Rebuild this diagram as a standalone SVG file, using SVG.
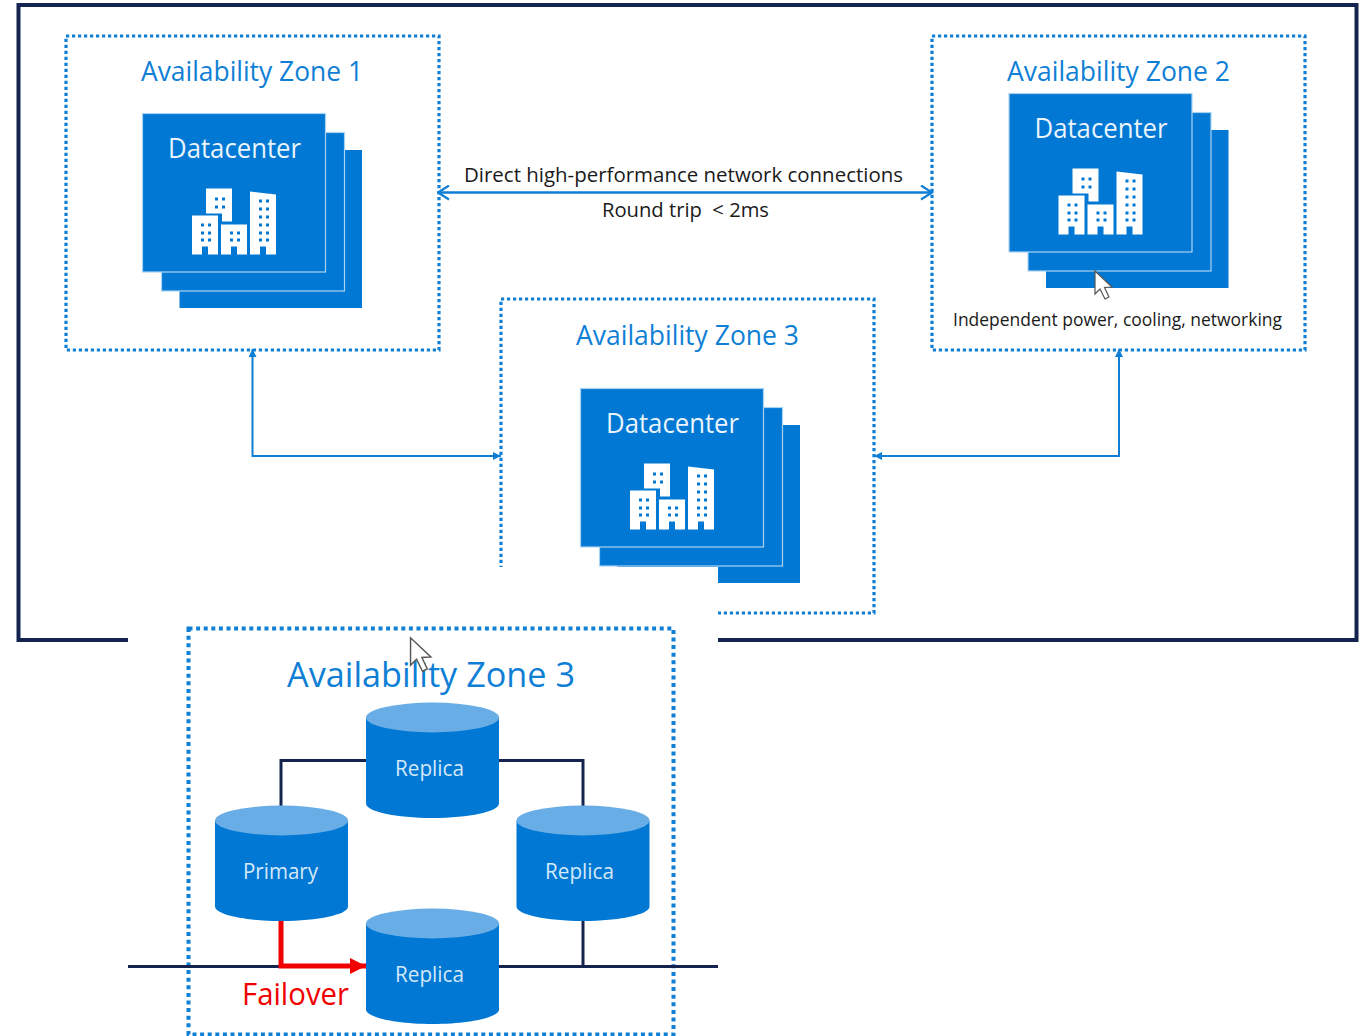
<svg xmlns="http://www.w3.org/2000/svg" xmlns:xlink="http://www.w3.org/1999/xlink" width="1364" height="1036" viewBox="0 0 1364 1036">
<style>
text{font-family:"Open Sans","Noto Sans","Liberation Sans",sans-serif}
.zone{fill:none;stroke:#0f7fd6;stroke-width:3.200;stroke-dasharray:3.200 2.800}
.zt{fill:#0f7fd6;font-size:27px}
.lab{fill:#1a1a1a;font-size:20px}
.dc{fill:#0078d4;stroke:#a9d3f2;stroke-width:1.2}
.dt{fill:#eaf4fc;font-size:27px}
.cb{fill:#0078d4}.ct{fill:#68ade6}
.ctx{fill:#d5e9f8;font-size:21px}
.nav{fill:none;stroke:#14244f;stroke-width:3}
.blue{fill:none;stroke:#0f7fd6;stroke-width:2}
.cur{fill:#fff;stroke:#555;stroke-width:1.2}
</style>
<defs>
<g id="dc">
<rect x="37" y="36.500" width="182.500" height="158" fill="#0078d4"/>
<rect class="dc" x="19" y="19" width="183" height="158.500"/>
<rect class="dc" x="0" y="0" width="183" height="158.500"/>
<text class="dt" x="25.500" y="44.500" textLength="133" lengthAdjust="spacingAndGlyphs">Datacenter</text>
<g fill="#fff" transform="translate(-0.500 0)">
<path d="M64 75H90V108H80V100H64Z"/>
<path d="M50 102H76V141H66V133H60V141H50Z"/>
<path d="M79 111H105V141H95V133H89V141H79Z"/>
<path d="M108 78L134 81V141H124V133H118V141H108Z"/>
</g>
<g fill="#0078d4" transform="translate(-0.500 0)">
<path d="M73 84h3v3h-3zM80 84h3v3h-3zM73 92h3v3h-3zM80 92h3v3h-3z"/>
<path d="M59 110h3v3h-3zM66 110h3v3h-3zM59 118h3v3h-3zM66 118h3v3h-3zM59 125h3v3h-3zM66 125h3v3h-3z"/>
<path d="M88 118h3v3h-3zM95 118h3v3h-3zM88 125h3v3h-3zM95 125h3v3h-3z"/>
<path d="M117 86h3v3h-3zM124 86h3v3h-3zM117 94h3v3h-3zM124 94h3v3h-3zM117 102h3v3h-3zM124 102h3v3h-3zM117 110h3v3h-3zM124 110h3v3h-3zM117 118h3v3h-3zM124 118h3v3h-3zM117 125h3v3h-3zM124 125h3v3h-3z"/>
</g>
</g>
<g id="cyl">
<path class="cb" d="M0 15V101C0 109 30 115.500 66.500 115.500S133 109 133 101V15Z"/>
<ellipse class="ct" cx="66.500" cy="15" rx="66.500" ry="15"/>
</g>
<path id="cursor" class="cur" d="M0 0V23L5 18L10 28L14 26L9.500 16.500L17 16Z"/>
<marker id="open" viewBox="0 0 14 16" refX="12.500" refY="8" markerWidth="14" markerHeight="16" markerUnits="userSpaceOnUse" orient="auto-start-reverse"><path d="M1.500 1L12.500 8L1.500 15" fill="none" stroke="#0f7fd6" stroke-width="2.200"/></marker>
<marker id="solid" viewBox="0 0 8 8" refX="8" refY="4" markerWidth="8" markerHeight="8" markerUnits="userSpaceOnUse" orient="auto-start-reverse"><path d="M0 0L8 4L0 8Z" fill="#0f7fd6"/></marker>
<marker id="red" viewBox="0 0 16 16" refX="16" refY="8" markerWidth="16" markerHeight="16" markerUnits="userSpaceOnUse" orient="auto"><path d="M0 0L16 8L0 16Z" fill="#f00000"/></marker>
</defs>
<rect width="1364" height="1036" fill="#fff"/>
<rect id="frame" x="18.500" y="5" width="1338" height="635" fill="none" stroke="#14244f" stroke-width="4"/>
<g id="zone1">
<rect class="zone" x="66" y="36" width="373" height="314"/>
<text class="zt" x="141" y="80.500" textLength="222" lengthAdjust="spacingAndGlyphs">Availability Zone 1</text>
<use xlink:href="#dc" href="#dc" x="142.500" y="113.500"/>
</g>
<g id="zone2">
<rect class="zone" x="932" y="36" width="373" height="314"/>
<text class="zt" x="1007" y="80.500" textLength="223" lengthAdjust="spacingAndGlyphs">Availability Zone 2</text>
<use xlink:href="#dc" href="#dc" x="1009" y="93.500"/>
<use xlink:href="#cursor" href="#cursor" x="1095" y="271"/>
<text class="lab" x="953" y="326" style="font-size:18.500px" textLength="329" lengthAdjust="spacingAndGlyphs">Independent power, cooling, networking</text>
</g>
<g id="zone3">
<rect class="zone" x="501" y="299" width="373" height="314"/>
<text class="zt" x="576" y="344.500" textLength="223" lengthAdjust="spacingAndGlyphs">Availability Zone 3</text>
<use xlink:href="#dc" href="#dc" x="580.500" y="388.500"/>
</g>
<g id="connectors">
<path class="blue" style="stroke-width:2.400" d="M438 192.500H932" marker-start="url(#open)" marker-end="url(#open)"/>
<path class="blue" d="M252.500 349V456H501" marker-start="url(#solid)" marker-end="url(#solid)"/>
<path class="blue" d="M1119 349V456H874" marker-start="url(#solid)" marker-end="url(#solid)"/>
</g>
<text id="lab1" class="lab" x="464" y="182" textLength="439" lengthAdjust="spacingAndGlyphs">Direct high-performance network connections</text>
<text id="lab2" class="lab" x="602" y="217" textLength="167" lengthAdjust="spacingAndGlyphs" xml:space="preserve">Round trip  &lt; 2ms</text>
<path id="mask" fill="#fff" d="M128 567H718V1036H128Z"/>
<g id="zone3-detail">
<rect class="zone" x="188.500" y="628.500" width="485" height="406" style="stroke-width:4;stroke-dasharray:4 3.600"/>
<text class="zt" x="287" y="687" style="font-size:35px" textLength="288" lengthAdjust="spacingAndGlyphs">Availability Zone 3</text>
</g>
<g id="links">
<path class="nav" d="M281 806V760.500H366M499 760.500H583V806M583 921V966M128 966.500H718"/>
<path d="M281 921V966H366" fill="none" stroke="#f00000" stroke-width="5" marker-end="url(#red)"/>
</g>
<g id="replica-top"><use xlink:href="#cyl" href="#cyl" x="366" y="702.500"/><text class="ctx" x="395" y="776" textLength="69" lengthAdjust="spacingAndGlyphs">Replica</text></g>
<g id="primary"><use xlink:href="#cyl" href="#cyl" x="215" y="805.500"/><text class="ctx" x="243" y="879" textLength="75" lengthAdjust="spacingAndGlyphs">Primary</text></g>
<g id="replica-right"><use xlink:href="#cyl" href="#cyl" x="516.500" y="805.500"/><text class="ctx" x="545" y="879" textLength="69" lengthAdjust="spacingAndGlyphs">Replica</text></g>
<g id="replica-bottom"><use xlink:href="#cyl" href="#cyl" x="366" y="908.500"/><text class="ctx" x="395" y="982" textLength="69" lengthAdjust="spacingAndGlyphs">Replica</text></g>
<text id="failover" x="242" y="1005" fill="#f00000" style="font-size:31px" textLength="107" lengthAdjust="spacingAndGlyphs">Failover</text>
<use xlink:href="#cursor" href="#cursor" x="410.500" y="642.500" transform="translate(-80 -130) scale(1.195)"/>
</svg>
